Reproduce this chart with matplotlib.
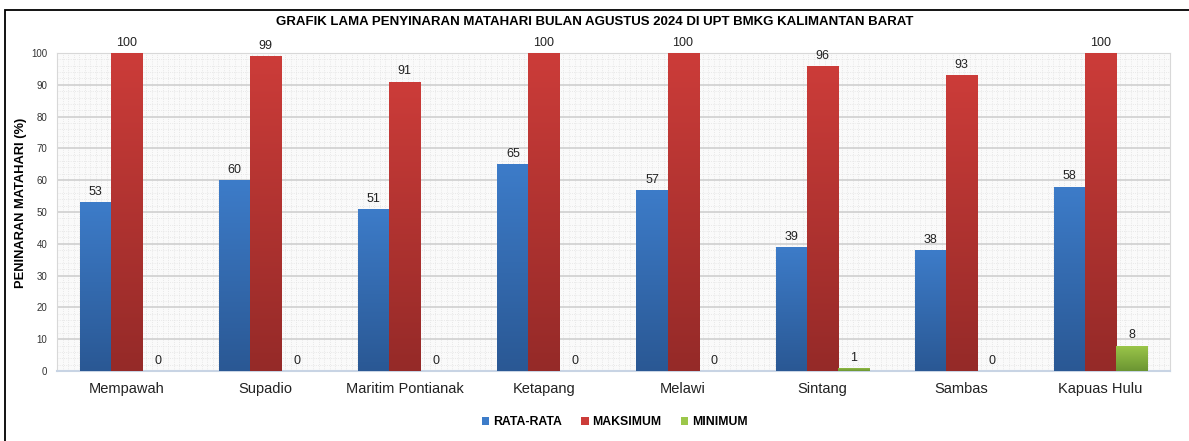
import matplotlib
matplotlib.use("Agg")
import matplotlib.pyplot as plt
import numpy as np
from matplotlib.colors import LinearSegmentedColormap
from matplotlib.patches import Rectangle

plt.rcParams['font.family'] = ['Liberation Sans', 'DejaVu Sans']

# Data
stasiun = ['Mempawah', 'Supadio', 'Maritim Pontianak', 'Ketapang', 'Melawi',
           'Sintang', 'Sambas', 'Kapuas Hulu']
rata_rata = [53, 60, 51, 65, 57, 39, 38, 58]
maksimum = [100, 99, 91, 100, 100, 96, 93, 100]
minimum = [0, 0, 0, 0, 0, 1, 0, 8]

seri = [
    ('RATA-RATA', rata_rata, '#3d7cc9', '#2a5894'),
    ('MAKSIMUM', maksimum, '#cc3c39', '#952a28'),
    ('MINIMUM', minimum, '#9cc74a', '#6b9532'),
]

fig = plt.figure(figsize=(11.89, 4.41), dpi=100)
ax = fig.add_axes([0.0479, 0.1587, 0.9361, 0.7211])

# bingkai grafik (terpotong di gambar asli)
fig.patches.append(Rectangle((5 / 1189, -0.05), 1.2, 1 - 10 / 441 + 0.05,
                             transform=fig.transFigure, fill=False,
                             edgecolor='black', linewidth=1.3))

ax.set_facecolor('#fafafa')
w = 0.223
x = np.arange(len(stasiun))
grad = np.linspace(0, 1, 256).reshape(-1, 1)

for k, (nama, vals, c_top, c_bot) in enumerate(seri):
    cmap = LinearSegmentedColormap.from_list(nama, [c_bot, c_top])
    pos = x + (k - 1) * w
    bars = ax.bar(pos, vals, width=w, color=c_top, label=nama, zorder=3,
                  linewidth=0)
    for b, v in zip(bars, vals):
        if v > 0:
            im = ax.imshow(grad, cmap=cmap, aspect='auto', origin='lower',
                           extent=[b.get_x(), b.get_x() + w, 0, v], zorder=3)
            im.set_clip_path(b)
        ax.text(b.get_x() + w / 2, v + 1.3, str(v), ha='center', va='bottom',
                fontsize=9, color='#222222', clip_on=False, zorder=5)

ax.set_xlim(-0.5, len(stasiun) - 0.5)
ax.set_ylim(0, 100)
ax.set_yticks(range(0, 101, 10))
ax.set_yticks(np.arange(0, 100, 2), minor=True)
ax.set_xticks(x)
ax.set_xticks(np.arange(-0.5, 7.5, 0.04), minor=True)
ax.set_xticklabels(stasiun, fontsize=10.5, color='#222222')
ax.tick_params(axis='y', labelsize=7, colors='#333333', length=0, pad=7)
ax.tick_params(axis='x', length=0, pad=8)
ax.tick_params(which='minor', length=0)
ax.grid(which='minor', color='#e2e2e2', linestyle=':', linewidth=0.6, zorder=0)
ax.grid(which='major', axis='y', color='#cfcfcf', linewidth=1.2, zorder=1)
ax.set_axisbelow(True)
for s in ax.spines.values():
    s.set_color('#d8d8d8')
ax.spines['bottom'].set_color('#c8d4e4')
ax.spines['bottom'].set_linewidth(1.5)

ax.set_ylabel('PENINARAN MATAHARI (%)', fontsize=9.3, fontweight='bold')
ax.yaxis.set_label_coords(-0.027, 0.53)
fig.text(0.5, 1 - 22 / 441, 'GRAFIK LAMA PENYINARAN MATAHARI BULAN AGUSTUS 2024 DI UPT BMKG KALIMANTAN BARAT',
         ha='center', va='center', fontsize=9.5, fontweight='bold')

leg = fig.legend(loc='center', bbox_to_anchor=(0.517, 1 - 422 / 441), ncol=3,
                 frameon=False, handlelength=0.6, handleheight=0.6,
                 handletextpad=0.3, columnspacing=1.6,
                 prop={'size': 8.8, 'weight': 'bold'})

fig.savefig('out.png', dpi=100)
